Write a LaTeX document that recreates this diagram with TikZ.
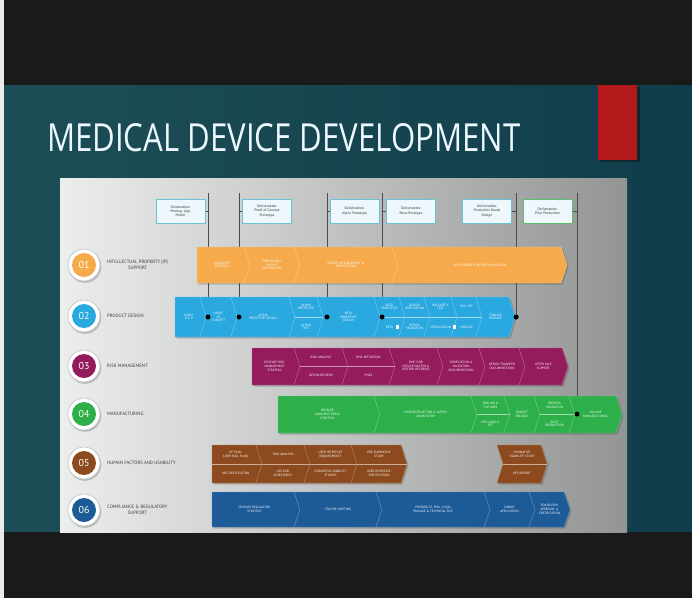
\documentclass[tikz,border=0pt]{standalone}
\usepackage{fontspec}
\usepackage{graphicx}
\setsansfont{PT Sans}
\newfontfamily\titlefont{Open Sans}
\definecolor{bgblack}{HTML}{1A1A1A}
\definecolor{tealL}{HTML}{1D4E56}
\definecolor{tealM}{HTML}{2F6667}
\definecolor{tealR}{HTML}{103D4B}
\definecolor{mdred}{HTML}{B3191A}
\definecolor{panL}{HTML}{ECEEEE}
\definecolor{panM}{HTML}{C2C3C3}
\definecolor{panR}{HTML}{939595}
\definecolor{mdorange}{HTML}{F6AA4C}
\definecolor{mdblue}{HTML}{2AA8E0}
\definecolor{mdmag}{HTML}{941B5C}
\definecolor{mdgreen}{HTML}{2DB04A}
\definecolor{mdbrown}{HTML}{8D4A1E}
\definecolor{mdnavy}{HTML}{1D5A98}
\definecolor{lbltext}{HTML}{3A3A3A}
\definecolor{dboxfill}{HTML}{EEF7FB}
\definecolor{dboxline}{HTML}{6CC0D8}
\definecolor{dboxgreen}{HTML}{5CBF6A}
\newcount\mdc
\newcommand{\mdcell}[8]{%
  \global\advance\mdc by 1
  \fill[black,opacity=0.18] ({#1+1.5},{#3+1.5}) -- ({#2-4.5},{#3+1.5}) -- ({#2+1.5},{(#3+#4)/2+1.5}) -- ({#2-4.5},{#4+1.5}) -- ({#1+1.5},{#4+1.5}) -- ({#1+#6+1.5},{(#3+#4)/2+1.5}) -- cycle;
  \filldraw[fill=#5,draw=#5!70!white,line width=0.4pt] (#1,#3) -- ({#2-6},#3) -- (#2,{(#3+#4)/2}) -- ({#2-6},#4) -- (#1,#4) -- ({#1+#6},{(#3+#4)/2}) -- cycle;
  \if\relax\detokenize{#8}\relax
    \node[cellt] (cell\the\mdc) at ({(#1+#2)/2+#6/4-1.5},{(#3+#4)/2}) {#7};
  \else
    \draw[sepl] ({#1+#6},{(#3+#4)/2}) -- (#2,{(#3+#4)/2});
    \node[cellt] (cell\the\mdc a) at ({(#1+#2)/2+#6/4-1.5},{(3*#3+#4)/4}) {#7};
    \node[cellt] (cell\the\mdc b) at ({(#1+#2)/2+#6/4-1.5},{(#3+3*#4)/4}) {#8};
  \fi}
\newcommand{\mdcirc}[4]{%
  \fill[black!40,opacity=0.6] (85,{#2+1.5}) circle (16.3);
  \node[circle,fill=white,draw=black!22,line width=0.8pt,minimum size=32pt,inner sep=0] (ring#1) at (84,#2) {};
  \node[circle,fill=#3,minimum size=24pt,inner sep=0,text=white!92!yellow,font=\sffamily\fontsize{10}{10}\selectfont] (num#1) at (84,#2) {#4};}
\tikzset{
  cellt/.style={text=white,font=\sffamily\fontsize{3.2}{3.7}\selectfont,align=center,inner sep=0pt},
  sepl/.style={draw=white,opacity=0.55,line width=0.5pt},
  lbl/.style={text=lbltext,font=\sffamily\fontsize{4.7}{5.4}\selectfont,align=center,inner sep=0pt,anchor=west},
  dbox/.style={draw=dboxline,fill=dboxfill,line width=1pt,minimum width=49pt,minimum height=24pt,inner sep=0pt,align=center,text=black!80,font=\sffamily\fontsize{3.6}{4.2}\selectfont},
  vline/.style={draw=black!70,line width=0.7pt},
  dot/.style={circle,fill=black,inner sep=0pt,minimum size=5pt},
  wsq/.style={fill=white,inner sep=0pt,minimum size=3.5pt}
}
\begin{document}
\begin{tikzpicture}[x=1pt,y=-1pt]
\useasboundingbox (0,0) rectangle (692,598);
% frame
\fill[bgblack] (0,0) rectangle (692,85);
\shade[left color=tealL,middle color=tealM,right color=tealR] (0,85) rectangle (692,532);
\fill[bgblack] (0,532) rectangle (692,598);
\fill[black!8] (0,0) rectangle (4,598);
% red tab
\fill[black,opacity=0.35] (600,87) rectangle (640,162);
\fill[mdred] (598,85) rectangle (637,160);
% title
\node[anchor=south west,inner sep=0pt,text=white!93!cyan] (title) at (47,152) {\resizebox{473pt}{28pt}{\titlefont MEDICAL DEVICE DEVELOPMENT}};
% panel
\shade[left color=panL,middle color=panM,right color=panR] (60,178) rectangle (627,532);
% deliverables
\node[dbox] (d1) at (180.5,211) {Deliverables:\\Mockup, App.\\Model};
\node[dbox] (d2) at (267,211) {Deliverables:\\Proof of Concept\\Prototype};
\node[dbox] (d3) at (354.5,211) {Deliverables:\\Alpha Prototype};
\node[dbox] (d4) at (411,211) {Deliverables:\\Beta Prototype};
\node[dbox] (d5) at (487,211) {Deliverables:\\Production Ready\\Design};
\node[dbox,draw=dboxgreen] (d6) at (547.5,211) {Deliverables:\\Pilot Production};
% milestone points
\coordinate (t1) at (208,193);
\coordinate (t2) at (239,193);
\coordinate (t3) at (327,193);
\coordinate (t4) at (382,193);
\coordinate (t5) at (516,193);
\coordinate (t6) at (577,193);
\node[dot] (p1) at (208,317) {};
\node[dot] (p2) at (239,317) {};
\node[dot] (p3) at (327,317) {};
\node[dot] (p4) at (382,317) {};
\node[dot] (p5) at (516,317) {};
\node[dot] (p6) at (577,414) {};
\foreach \i in {1,...,6} {
  \draw[vline] (t\i) -- (p\i);
  \draw[vline] (d\i) -- (d\i -| p\i);
}
% redraw boxes above ticks
\node[dbox] at (180.5,211) {Deliverables:\\Mockup, App.\\Model};
\node[dbox] at (267,211) {Deliverables:\\Proof of Concept\\Prototype};
\node[dbox] at (354.5,211) {Deliverables:\\Alpha Prototype};
\node[dbox] at (411,211) {Deliverables:\\Beta Prototype};
\node[dbox] at (487,211) {Deliverables:\\Production Ready\\Design};
\node[dbox,draw=dboxgreen] at (547.5,211) {Deliverables:\\Pilot Production};
% row 1
\mdcell{197}{250}{247}{283}{mdorange}{0}{DEVELOP IP\\STRATEGY}{}
\mdcell{244}{300}{247}{283}{mdorange}{6}{PROVISIONAL\\PATENT\\APPLICATION}{}
\mdcell{294}{398}{247}{283}{mdorange}{6}{PATENT INFRINGEMENT \&\\OPTIMIZATION}{}
\mdcell{392}{567}{247}{283}{mdorange}{6}{FILE EXTENDED PATENT APPLICATION}{}
% row 2
\mdcell{175}{206}{297}{337}{mdblue}{0}{EARLY\\R \& D}{}
\mdcell{200}{237}{297}{337}{mdblue}{6}{PROOF\\OF\\CONCEPT}{}
\mdcell{231}{295}{297}{337}{mdblue}{6}{ALPHA\\PROTOTYPE DESIGN}{}
\mdcell{289}{323}{297}{337}{mdblue}{6}{ALPHA\\PROTOTYPE}{ALPHA\\TEST}
\mdcell{317}{380}{297}{337}{mdblue}{6}{BETA\\PROTOTYPE\\DESIGN}{}
\mdcell{374}{405}{297}{337}{mdblue}{6}{BETA\\PROTOTYPE}{BETA}
\mdcell{399}{430}{297}{337}{mdblue}{6}{DESIGN\\VERIFICATION}{DESIGN\\VALIDATION}
\mdcell{424}{457}{297}{337}{mdblue}{6}{BIO SAFETY\\TEST}{STERILIZATION}
\mdcell{451}{482}{297}{337}{mdblue}{6}{EMI / EFI}{MOCKUP}
\mdcell{476}{515}{297}{337}{mdblue}{6}{TOOLING\\RELEASE}{}
\node[dot] at (p1) {};
\node[dot] at (p2) {};
\node[dot] at (p3) {};
\node[dot] at (p4) {};
\node[dot] at (p5) {};
\node[wsq] (sq1) at (397.5,327) {};
\node[wsq] (sq2) at (454.5,327) {};
% row 3
\mdcell{252}{300}{348}{385}{mdmag}{0}{DEVELOP RISK\\MANAGEMENT\\STRATEGY}{}
\mdcell{294}{348}{348}{385}{mdmag}{6}{RISK ANALYSIS}{DESIGN REVIEWS}
\mdcell{342}{395}{348}{385}{mdmag}{6}{RISK MITIGATION}{FMEA}
\mdcell{389}{443}{348}{385}{mdmag}{6}{DHF, DHR\\(DEVICE MASTER \&\\HISTORY RECORDS)}{}
\mdcell{437}{485}{348}{385}{mdmag}{6}{VERIFICATION \&\\VALIDATION\\DOCUMENTATION}{}
\mdcell{479}{525}{348}{385}{mdmag}{6}{DESIGN TRANSFER\\DOCUMENTATION}{}
\mdcell{519}{568}{348}{385}{mdmag}{6}{AFTER SALE\\SUPPORT}{}
% row 4
\mdcell{278}{380}{396}{433}{mdgreen}{0}{DEVELOP\\MANUFACTURING\\STRATEGY}{}
\mdcell{374}{477}{396}{433}{mdgreen}{6}{VENDOR SELECTION \& SUPPLY\\CHAIN SETUP}{}
\mdcell{471}{510}{396}{433}{mdgreen}{6}{TOOLING \&\\FIXTURES}{MFG LAYOUT\\SET}
\mdcell{504}{540}{396}{433}{mdgreen}{6}{BUDGET\\RELEASE}{}
\mdcell{534}{575}{396}{433}{mdgreen}{6}{PROCESS\\VALIDATION}{PILOT\\PRODUCTION}
\mdcell{569}{622}{396}{433}{mdgreen}{6}{VOLUME\\MANUFACTURING}{}
\node[dot] at (p6) {};
% row 5
\mdcell{212}{262}{445}{483}{mdbrown}{0}{HF PLAN\\(USER EVAL PLAN)}{USE SPECIFICATION}
\mdcell{256}{310}{445}{483}{mdbrown}{6}{TASK ANALYSIS}{USE RISK\\ASSESSMENT}
\mdcell{304}{357}{445}{483}{mdbrown}{6}{USER INTERFACE\\REQUIREMENTS}{FORMATIVE USABILITY\\STUDIES}
\mdcell{351}{407}{445}{483}{mdbrown}{6}{PRE-SUMMATIVE\\STUDY}{USER INTERFACE\\SPECIFICATION}
\mdcell{497}{547}{445}{483}{mdbrown}{6}{SUMMATIVE\\USABILITY STUDY}{HFE REPORT}
% row 6
\mdcell{212}{300}{492}{527}{mdnavy}{0}{DEVELOP REGULATORY\\STRATEGY}{}
\mdcell{294}{382}{492}{527}{mdnavy}{6}{FDA PRE-MEETING}{}
\mdcell{376}{490}{492}{527}{mdnavy}{6}{PREPARE CE, PMA, 510(K)\\PACKAGE \& TECHNICAL FILE}{}
\mdcell{484}{535}{492}{527}{mdnavy}{6}{SUBMIT\\APPLICATION}{}
\mdcell{529}{570}{492}{527}{mdnavy}{6}{FDA REVIEW\\APPROVAL \&\\CERTIFICATION}{}
% circles and labels
\mdcirc{1}{265}{mdorange}{01}
\mdcirc{2}{316}{mdblue}{02}
\mdcirc{3}{366}{mdmag}{03}
\mdcirc{4}{414}{mdgreen}{04}
\mdcirc{5}{463}{mdbrown}{05}
\mdcirc{6}{510}{mdnavy}{06}
\node[lbl] (l1) at (107,265) {INTELLECTUAL PROPERTY (IP)\\SUPPORT};
\node[lbl] (l2) at (107,316) {PRODUCT DESIGN};
\node[lbl] (l3) at (107,366) {RISK MANAGEMENT};
\node[lbl] (l4) at (107,414) {MANUFACTURING};
\node[lbl] (l5) at (107,463) {HUMAN FACTORS AND USABILITY};
\node[lbl] (l6) at (107,510) {COMPLIANCE \& REGULATORY\\SUPPORT};
\end{tikzpicture}
\end{document}
